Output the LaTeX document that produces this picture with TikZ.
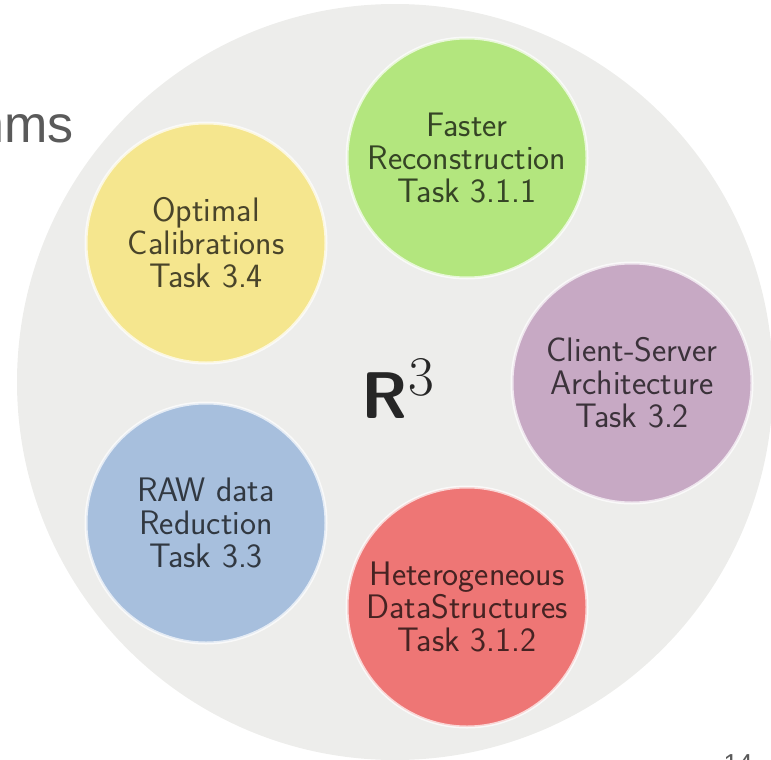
\documentclass[tikz,border=0pt]{standalone}
\usepackage{fontspec}
\newfontfamily\slidefont{Liberation Sans}
\definecolor{bggrey}{HTML}{EDEDEB}
\definecolor{tgreen}{HTML}{B3E67E}
\definecolor{tyellow}{HTML}{F5E68E}
\definecolor{tpurple}{HTML}{C7A9C4}
\definecolor{tblue}{HTML}{A7BFDD}
\definecolor{tred}{HTML}{EE7675}
\definecolor{slidegrey}{HTML}{5A5A5A}

\begin{document}
\begin{tikzpicture}[x=1pt, y=-1pt,
		task/.style = {circle, minimum size=240pt, inner sep=0pt, draw=white, draw opacity=0.7, line width=3pt,
			align=center, text=black, text opacity=0.7, font=\sffamily\fontsize{34}{33}\selectfont}]
		\useasboundingbox (0,0) rectangle (771,760);
		%Tausta
		\fill[bggrey] (395,382) circle (378);
		\node[anchor=base east, text=slidegrey, font=\slidefont\fontsize{52}{52}\selectfont] (title) at (77,142) {hms};
		\node[anchor=base east, text=slidegrey, font=\slidefont\fontsize{26}{26}\selectfont] (page) at (756,772) {14};
		%Tehtavat
		\node[task, fill=tgreen] (faster) at (467,158) {Faster\\Reconstruction\\Task 3.1.1};
		\node[task, fill=tyellow] (calib) at (206,243) {Optimal\\Calibrations\\Task 3.4};
		\node[task, fill=tpurple] (client) at (632,383) {Client-Server\\Architecture\\Task 3.2};
		\node[task, fill=tblue] (raw) at (206,523) {RAW data\\Reduction\\Task 3.3};
		\node[task, fill=tred] (hetero) at (467,607) {Heterogeneous\\DataStructures\\Task 3.1.2};
		%Keskus
		\node[text=black!85] (rcube) at (398,388) {\sffamily\bfseries\fontsize{66}{66}\selectfont R\normalfont\fontsize{56}{56}\selectfont\raisebox{23pt}{3}};
\end{tikzpicture}
\end{document}
